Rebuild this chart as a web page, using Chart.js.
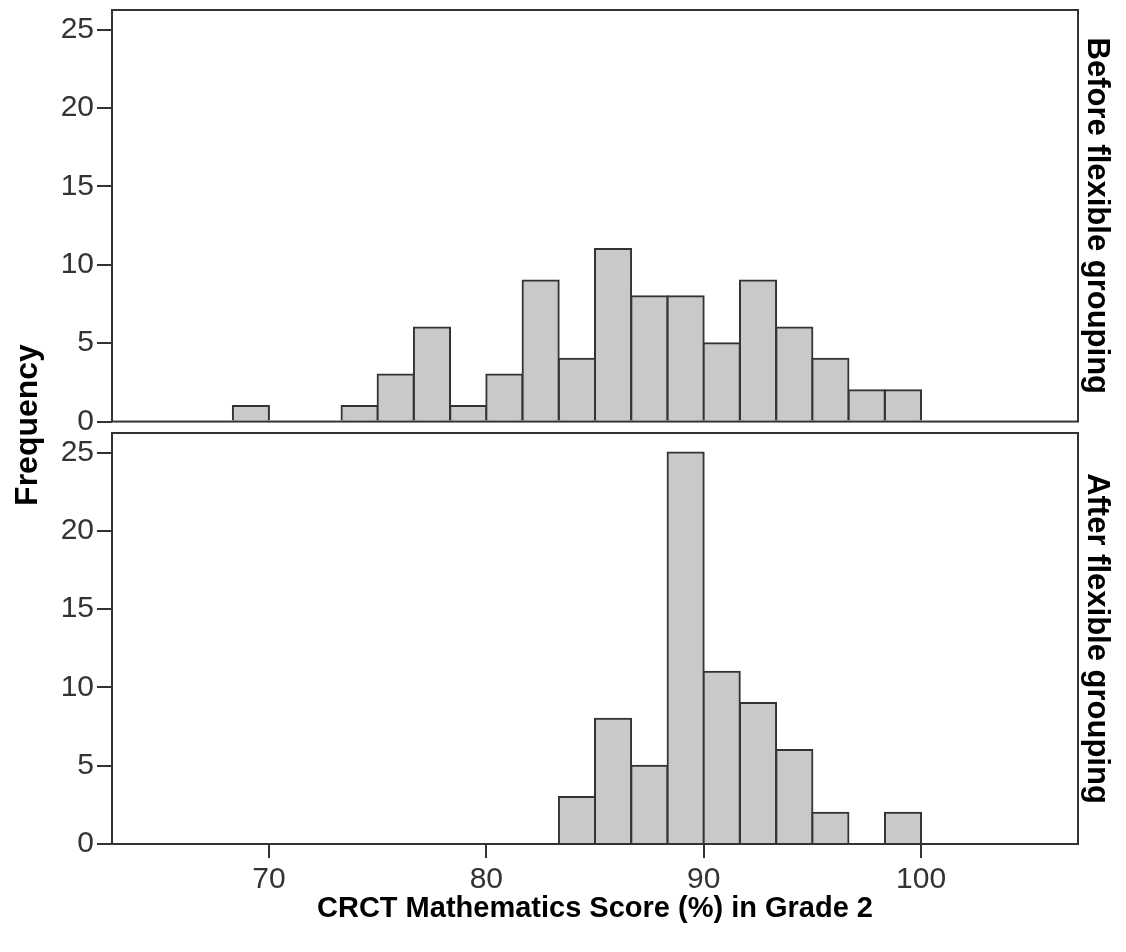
<!DOCTYPE html>
<html>
<head>
<meta charset="utf-8">
<title>CRCT Mathematics Score in Grade 2</title>
<script src="https://cdn.jsdelivr.net/npm/chart.js@4.4.1/dist/chart.umd.min.js"></script>
<style>
  html, body { margin: 0; padding: 0; background: #fff; }
  canvas { display: block; }
</style>
</head>
<body>
<canvas id="grafica" width="1126" height="952"></canvas>
<script>
// bin centres, bins are 5/3 points wide
const binCenters = [69.17, 70.83, 72.5, 74.17, 75.83, 77.5, 79.17, 80.83, 82.5, 84.17,
                    85.83, 87.5, 89.17, 90.83, 92.5, 94.17, 95.83, 97.5, 99.17];
const before = [1, 0, 0, 1, 3, 6, 1, 3, 9, 4, 11, 8, 8, 5, 9, 6, 4, 2, 2];
const after  = [0, 0, 0, 0, 0, 0, 0, 0, 0, 3, 8, 5, 25, 11, 9, 6, 2, 0, 2];

const xTicks = [70, 80, 90, 100];
const yTicks = [0, 5, 10, 15, 20, 25];
const panelLabels = ["Before flexible grouping", "After flexible grouping"];
const xTitle = "CRCT Mathematics Score (%) in Grade 2";
const yTitle = "Frequency";

const fuente = "'Liberation Sans', Arial, Helvetica, sans-serif";
Chart.defaults.font.family = fuente;

function puntos(valores) {
  return binCenters.map((x, i) => ({ x: x, y: valores[i] || null }));
}

function ejeY(peso, min) {
  return {
    type: "linear",
    position: "left",
    stack: "paneles",
    stackWeight: peso,
    min: min,
    max: 26.25,
    afterBuildTicks: s => { s.ticks = yTicks.map(v => ({ value: v })); },
    afterFit: s => { s.width = 112; s.paddingTop = 0; s.paddingBottom = 0; },
    border: { display: false },
    grid: { drawOnChartArea: false, drawTicks: true, tickLength: 15, color: "#333", lineWidth: 2 },
    ticks: { color: "#333", padding: 3, font: { size: 30 } }
  };
}

// frames, strip labels and the shared y title
const marcos = {
  id: "marcos",
  afterDatasetsDraw(chart) {
    const { ctx, chartArea } = chart;
    const top = chart.scales.yTop;
    const bot = chart.scales.yBot;
    const paneles = [
      [top.top, top.getPixelForValue(0)],
      [bot.top, bot.bottom]
    ];
    const ancho = chartArea.right - chartArea.left;

    ctx.save();
    ctx.strokeStyle = "#333";
    ctx.lineWidth = 2;
    paneles.forEach(p => ctx.strokeRect(chartArea.left, p[0], ancho, p[1] - p[0]));

    ctx.fillStyle = "#000";
    ctx.font = "bold 31px " + fuente;
    ctx.textAlign = "center";
    ctx.textBaseline = "alphabetic";
    paneles.forEach((p, i) => {
      ctx.save();
      ctx.translate(chartArea.right + 10, (p[0] + p[1]) / 2);
      ctx.rotate(Math.PI / 2);
      ctx.fillText(panelLabels[i], 0, 0);
      ctx.restore();
    });

    ctx.font = "bold 32px " + fuente;
    ctx.save();
    ctx.translate(37, (chartArea.top + chartArea.bottom) / 2 - 2);
    ctx.rotate(-Math.PI / 2);
    ctx.fillText(yTitle, 0, 0);
    ctx.restore();
    ctx.restore();
  }
};

const estiloBarra = {
  backgroundColor: "#c9c9c9",
  borderColor: "#333",
  borderWidth: 2,
  inflateAmount: 1,
  barPercentage: 1,
  categoryPercentage: 1,
  grouped: false
};

const ctx = document.getElementById("grafica").getContext("2d");

const grafica = new Chart(ctx, {
  type: "bar",
  data: {
    datasets: [
      Object.assign({ label: panelLabels[0], data: puntos(before), yAxisID: "yTop" }, estiloBarra),
      Object.assign({ label: panelLabels[1], data: puntos(after), yAxisID: "yBot" }, estiloBarra)
    ]
  },
  options: {
    responsive: false,
    animation: false,
    devicePixelRatio: 1,
    layout: { padding: { top: 10, right: 48, bottom: 0, left: 0 } },
    plugins: { legend: { display: false }, tooltip: { enabled: false } },
    scales: {
      x: {
        type: "linear",
        offset: false,
        min: 62.78,
        max: 107.22,
        afterBuildTicks: s => { s.ticks = xTicks.map(v => ({ value: v })); },
        afterFit: s => { s.height = 108; s.paddingLeft = 0; s.paddingRight = 0; },
        border: { display: false },
        grid: { offset: false, drawOnChartArea: false, drawTicks: true, tickLength: 14, color: "#333", lineWidth: 2 },
        ticks: { color: "#333", padding: 4, font: { size: 30 } },
        title: {
          display: true,
          text: xTitle,
          color: "#000",
          font: { size: 29, weight: "bold" },
          padding: { top: 0, bottom: 26 }
        }
      },
      yBot: ejeY(411, 0),
      yTop: ejeY(423, -0.73)
    }
  },
  plugins: [marcos]
});
</script>
</body>
</html>
